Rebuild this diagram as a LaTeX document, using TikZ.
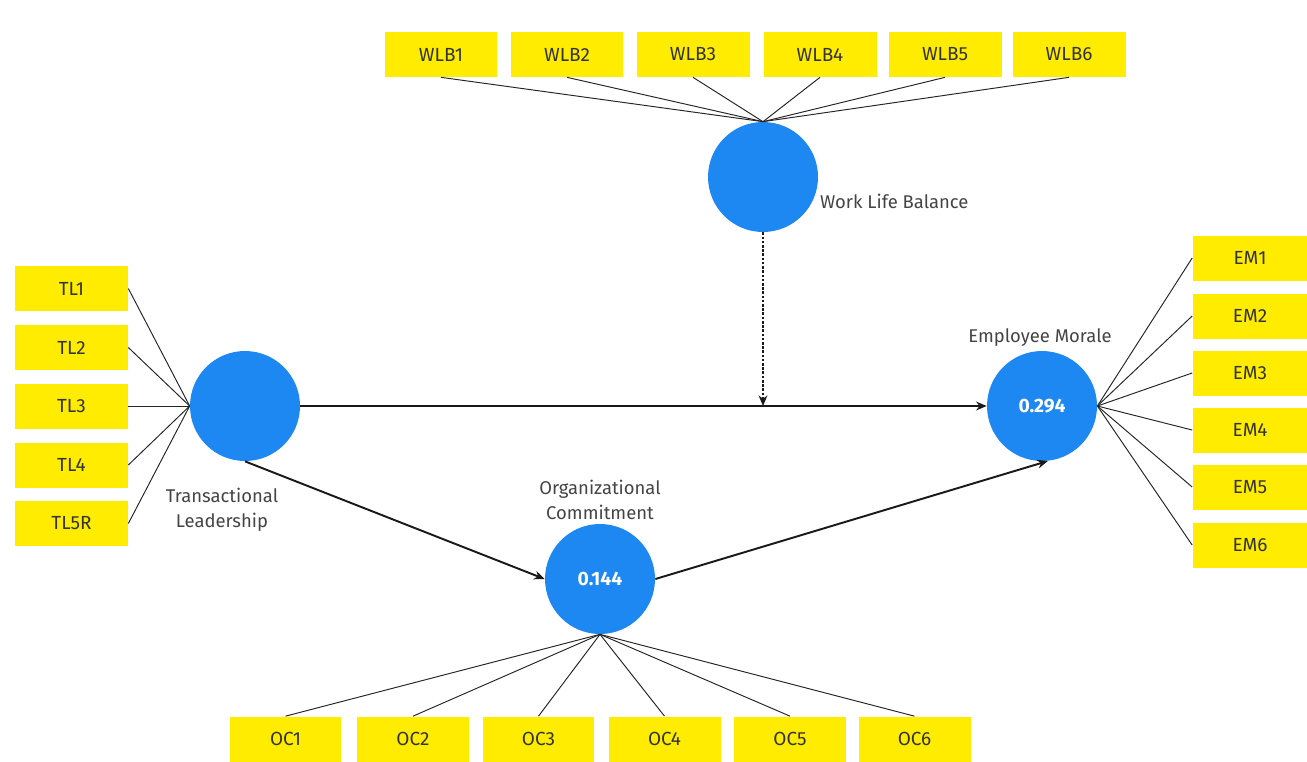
\documentclass[tikz,border=0pt]{standalone}
\usepackage{fontspec}
\setmainfont{Fira Sans}
\usetikzlibrary{arrows.meta}
\definecolor{boxy}{HTML}{FFEC00}
\definecolor{circb}{HTML}{1E88F2}
\definecolor{txt}{HTML}{333333}
\definecolor{lbl}{HTML}{444444}
\begin{document}
\begin{tikzpicture}[x=0.02cm,y=-0.02cm,
  ind/.style={fill=boxy, minimum width=2.26cm, minimum height=0.9cm, inner sep=0pt, text=txt, font=\fontsize{10.8}{12}\selectfont},
  lat/.style={circle, fill=circb, minimum size=2.2cm, inner sep=0pt, text=white, font=\fontsize{11}{12}\selectfont\bfseries},
  lab/.style={text=lbl, font=\fontsize{10.5}{14}\selectfont, align=center, inner sep=1pt},
  load/.style={draw=black!85, line width=0.55pt},
  path/.style={draw=black!90, line width=1.1pt, -{Stealth[length=6pt,width=5pt]}},
  modp/.style={draw=black!90, line width=1.3pt, dash pattern=on 1.5pt off 0.9pt, -{Stealth[length=6pt,width=5pt]}}]
\useasboundingbox (0,0) rectangle (1307,761);
% latent variables
\node[lat] (wlb) at (763,177) {};
\node[lat] (tl) at (245,406) {};
\node[lat] (em) at (1042,406) {0.294};
\node[lat] (oc) at (600,579) {0.144};
% labels
\node[lab, anchor=west] (wlbl) at (818,201) {Work Life Balance};
\node[lab] (tll) at (222,510) {Transactional\\Leadership};
\node[lab] (eml) at (1040,338) {Employee Morale};
\node[lab] (ocl) at (600,500) {Organizational\\Commitment};
% WLB indicators
\foreach \i/\x in {1/441,2/567,3/693,4/820,5/945,6/1069}{
  \node[ind] (w\i) at (\x,54.5) {WLB\i};
  \draw[load] (w\i.south) -- (wlb.north);
}
% TL indicators
\foreach \i/\t/\y in {1/TL1/288.5,2/TL2/347.5,3/TL3/406,4/TL4/465,5/TL5R/523.5}{
  \node[ind] (t\i) at (71.5,\y) {\t};
  \draw[load] (t\i.east) -- (tl.west);
}
% EM indicators
\foreach \i/\y in {1/258,2/316,3/373,4/430,5/487,6/545}{
  \node[ind, minimum width=2.3cm] (e\i) at (1250,\y) {EM\i};
  \draw[load] (e\i.west) -- (em.east);
}
% OC indicators
\foreach \i/\x in {1/285.5,2/413,3/538.5,4/664.5,5/790,6/914.5}{
  \node[ind, minimum width=2.24cm] (o\i) at (\x,739) {OC\i};
  \draw[load] (o\i.north) -- (oc.south);
}
% structural paths
\coordinate (mod) at (wlb.south |- tl.east);
\draw[path] (tl.east) -- (em.west);
\draw[path] (tl.south) -- (oc.west);
\draw[path] (oc.east) -- (em.-84);
\draw[modp] (wlb.south) -- (mod);
\end{tikzpicture}
\end{document}
